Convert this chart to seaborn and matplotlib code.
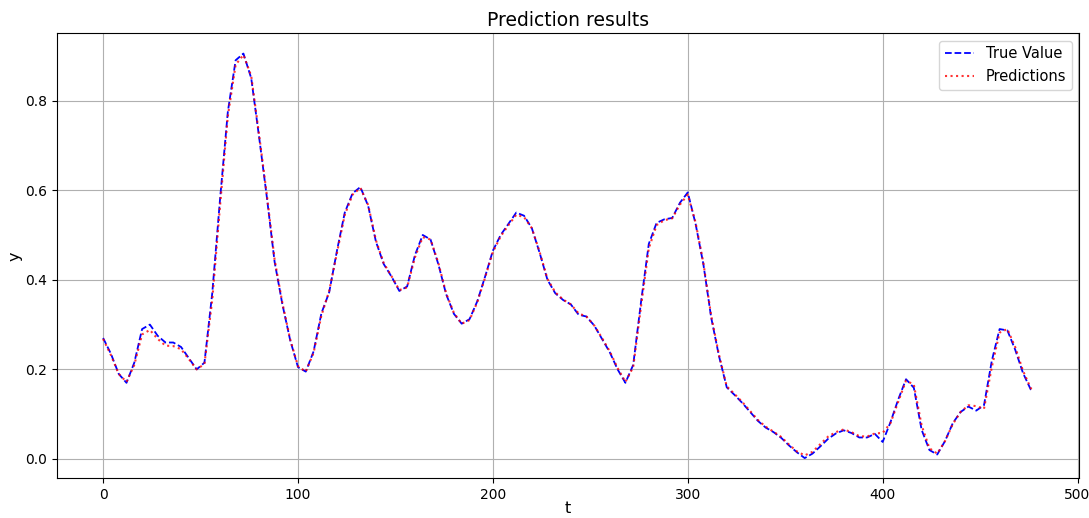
import seaborn as sns
import matplotlib.pyplot as plt

# sample times (every 4 steps) and values
t = list(range(0, 477, 4)) + [477]

true_value = [0.270, 0.235, 0.190, 0.170, 0.215, 0.290, 0.300, 0.275, 0.260, 0.260,
              0.250, 0.225, 0.200, 0.215, 0.370, 0.580, 0.775, 0.890, 0.905, 0.850,
              0.720, 0.585, 0.440, 0.345, 0.265, 0.205, 0.195, 0.240, 0.325, 0.372,
              0.465, 0.550, 0.593, 0.607, 0.565, 0.485, 0.435, 0.407, 0.375, 0.385,
              0.455, 0.500, 0.490, 0.435, 0.368, 0.324, 0.302, 0.312, 0.352, 0.407,
              0.465, 0.500, 0.525, 0.550, 0.543, 0.515, 0.460, 0.400, 0.370, 0.355,
              0.345, 0.322, 0.318, 0.298, 0.268, 0.238, 0.200, 0.170, 0.210, 0.350,
              0.480, 0.527, 0.535, 0.538, 0.572, 0.595, 0.525, 0.435, 0.316, 0.230,
              0.160, 0.143, 0.125, 0.105, 0.085, 0.070, 0.060, 0.047, 0.030, 0.015,
              0.002, 0.012, 0.028, 0.045, 0.057, 0.064, 0.058, 0.048, 0.048, 0.056,
              0.038, 0.082, 0.133, 0.178, 0.159, 0.065, 0.020, 0.010, 0.040, 0.080,
              0.105, 0.117, 0.108, 0.120, 0.219, 0.290, 0.287, 0.244, 0.192, 0.155,
              0.152]

predictions = [0.268, 0.232, 0.190, 0.172, 0.210, 0.278, 0.288, 0.268, 0.253, 0.252,
               0.245, 0.223, 0.200, 0.212, 0.355, 0.565, 0.765, 0.880, 0.902, 0.855,
               0.725, 0.590, 0.445, 0.348, 0.267, 0.207, 0.195, 0.237, 0.320, 0.375,
               0.460, 0.545, 0.590, 0.605, 0.567, 0.488, 0.437, 0.408, 0.377, 0.383,
               0.450, 0.495, 0.490, 0.438, 0.370, 0.326, 0.302, 0.310, 0.350, 0.405,
               0.462, 0.497, 0.522, 0.545, 0.540, 0.515, 0.462, 0.402, 0.372, 0.356,
               0.345, 0.325, 0.318, 0.298, 0.270, 0.240, 0.203, 0.172, 0.205, 0.340,
               0.470, 0.522, 0.533, 0.537, 0.568, 0.590, 0.528, 0.438, 0.320, 0.233,
               0.162, 0.145, 0.127, 0.107, 0.087, 0.072, 0.061, 0.049, 0.032, 0.017,
               0.008, 0.016, 0.033, 0.050, 0.060, 0.066, 0.060, 0.051, 0.050, 0.057,
               0.058, 0.080, 0.128, 0.175, 0.166, 0.075, 0.024, 0.012, 0.040, 0.078,
               0.105, 0.120, 0.118, 0.112, 0.205, 0.282, 0.290, 0.250, 0.197, 0.158,
               0.155]

fig = plt.figure(figsize=(10.89, 5.18), dpi=100)
ax = fig.add_axes([0.052, 0.0766, 0.9390, 0.8591])

sns.lineplot(x=t, y=true_value, ax=ax, color='blue', linestyle='--',
             linewidth=1.3, label='True Value')
sns.lineplot(x=t, y=predictions, ax=ax, color='red', linestyle=':',
             linewidth=1.5, alpha=0.8, label='Predictions')

ax.set_title('Prediction results', fontsize=13.5, pad=5)
ax.set_xlabel('t', fontsize=11.5, labelpad=-1)
ax.set_ylabel('y', fontsize=11.5, labelpad=2)
ax.tick_params(labelsize=10)
ax.set_xticks([0, 100, 200, 300, 400, 500])
ax.grid(True)
ax.legend(loc='upper right', fontsize=10.5)

fig.savefig('out.png', dpi=100)
